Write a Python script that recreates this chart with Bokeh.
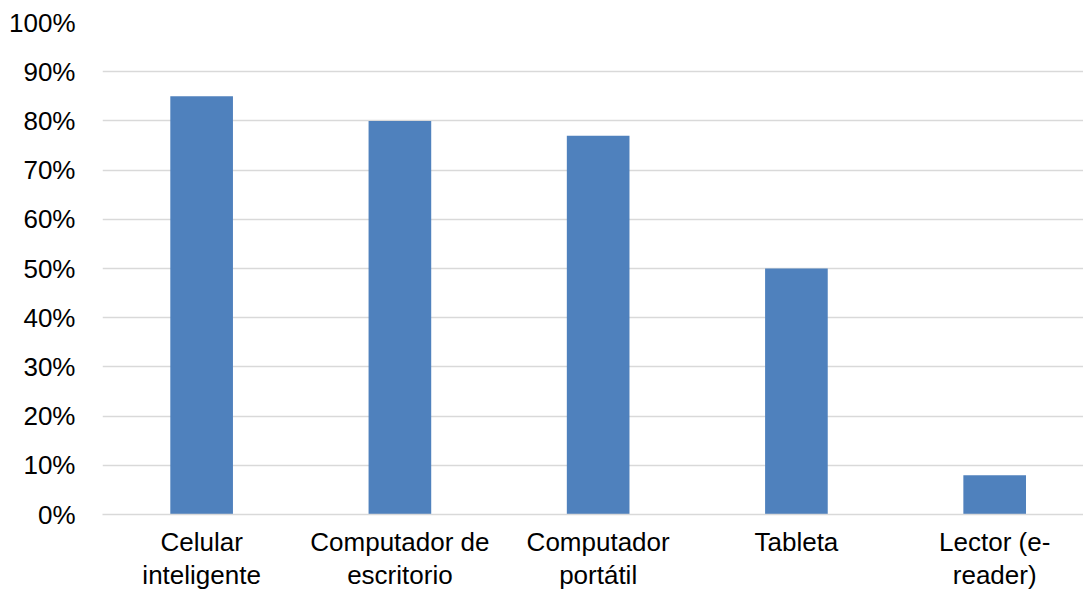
from bokeh.plotting import figure
from bokeh.models import ColumnDataSource, NumeralTickFormatter, FixedTicker, Range1d
from bokeh.embed import file_html
from bokeh.resources import INLINE

categories = ["Celular\ninteligente", "Computador de\nescritorio", "Computador\nportátil", "Tableta", "Lector (e-\nreader)"]
values = [0.85, 0.80, 0.77, 0.50, 0.08]

xs = [i + 0.5 for i in range(len(categories))]
source = ColumnDataSource(dict(x=xs, val=values, cat=categories))

# the reference plot area runs slightly past the right edge of the picture
p = figure(x_range=Range1d(0, 4.948), y_range=Range1d(0, 1.0), width=1083, height=593,
           output_backend="svg", toolbar_location=None,
           min_border_left=102, min_border_right=0, min_border_top=22, min_border_bottom=79)
p.outline_line_color = None
p.vbar(x="x", top="val", width=0.316, source=source, fill_color="#4F81BD", line_color=None)

p.yaxis.ticker = FixedTicker(ticks=[i / 10 for i in range(11)])
p.yaxis.formatter = NumeralTickFormatter(format="0%")
p.yaxis.axis_line_color = None
p.yaxis.major_tick_line_color = None
p.yaxis.minor_tick_line_color = None
p.yaxis.major_tick_out = 0
p.yaxis.major_label_standoff = 27
p.yaxis.major_label_text_font = "Liberation Sans"
p.yaxis.major_label_text_font_size = "26px"
p.yaxis.major_label_text_color = "#000000"

p.xaxis.ticker = FixedTicker(ticks=xs)
p.xaxis.major_label_overrides = {x: c for x, c in zip(xs, categories)}
p.xaxis.axis_line_color = "#D9D9D9"
p.xaxis.axis_line_width = 1.5
p.xaxis.major_tick_line_color = None
p.xaxis.minor_tick_line_color = None
p.xaxis.major_tick_out = 0
p.xaxis.major_label_standoff = 12
p.xaxis.major_label_text_font = "Liberation Sans"
p.xaxis.major_label_text_font_size = "26px"
p.xaxis.major_label_text_color = "#000000"
p.xaxis.major_label_text_line_height = 1.1

p.xgrid.grid_line_color = None
p.ygrid.grid_line_color = "#D9D9D9"
p.ygrid.grid_line_width = 1.5

open("out.html", "w").write(file_html(p, INLINE))
